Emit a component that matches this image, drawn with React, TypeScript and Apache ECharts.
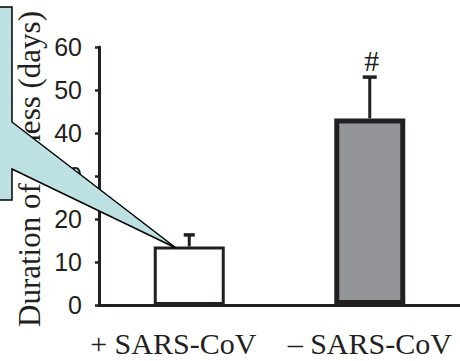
import React, { useEffect, useRef } from "react";
import * as echarts from "echarts";

// Groups, mean duration of illness and upper error (days)
const categories = ["+ SARS-CoV", "\u2013 SARS-CoV"];
const meanDays = [13.6, 43.4];
const errorDays = [2.7, 9.6];
const significance = ["", "#"];
const yTicks = [0, 10, 20, 30, 40, 50, 60];
const yTitle = "Duration of illness (days)";

const INK = "#231f20";
const SERIF = "'Liberation Serif', 'Times New Roman', serif";
const SANS = "'Liberation Sans', Arial, sans-serif";

const barLooks = [
  { color: "#ffffff", borderWidth: 3 },
  { color: "#939598", borderWidth: 5 },
];
const capWidths = [11, 14];

export default function App() {
  const ref = useRef<HTMLDivElement>(null);

  useEffect(() => {
    if (!ref.current) return;
    const chart = echarts.init(ref.current, null, { renderer: "svg" });

    const barData = meanDays.map((v, i) => ({
      value: v,
      itemStyle: { color: barLooks[i].color, borderColor: INK, borderWidth: barLooks[i].borderWidth },
    }));
    const errData = meanDays.map((v, i) => [i, v, errorDays[i]]);

    chart.setOption({
      animation: false,
      grid: { left: 99, right: -4, top: 47, bottom: 56 },
      xAxis: {
        type: "category",
        data: categories,
        axisLine: { lineStyle: { color: INK, width: 3 } },
        axisTick: { show: false },
        axisLabel: {
          interval: 0,
          hideOverlap: false,
          color: INK,
          fontFamily: SERIF,
          fontSize: 30,
          lineHeight: 26,
          margin: 25,
          formatter: (val: string, idx: number) => (idx === 0 ? `{a|${val}}` : `{b|${val}}`),
          rich: {
            a: { fontFamily: SERIF, fontSize: 30, lineHeight: 26, color: INK, padding: [0, 32, 0, 0] },
            b: { fontFamily: SERIF, fontSize: 30, lineHeight: 26, color: INK },
          },
        },
      },
      yAxis: {
        type: "value",
        min: yTicks[0],
        max: yTicks[yTicks.length - 1],
        interval: 10,
        splitLine: { show: false },
        axisLine: { show: true, lineStyle: { color: INK, width: 3 } },
        axisTick: { show: true, length: 4, lineStyle: { color: INK, width: 2.5 } },
        axisLabel: { color: INK, fontFamily: SANS, fontSize: 25, margin: 17 },
      },
      series: [
        {
          type: "bar",
          data: barData,
          barWidth: 71,
          z: 2,
        },
        {
          type: "custom",
          z: 3,
          data: errData,
          renderItem: (params: any, api: any) => {
            const i = api.value(0);
            const v = api.value(1);
            const e = api.value(2);
            const base = api.coord([i, v]);
            const top = api.coord([i, v + e]);
            const half = capWidths[i] / 2;
            const children: any[] = [
              {
                type: "line",
                shape: { x1: base[0], y1: base[1], x2: top[0], y2: top[1] },
                style: { stroke: INK, lineWidth: 3 },
              },
              {
                type: "line",
                shape: { x1: top[0] - half, y1: top[1], x2: top[0] + half, y2: top[1] },
                style: { stroke: INK, lineWidth: 3.5 },
              },
            ];
            if (significance[i]) {
              children.push({
                type: "text",
                style: {
                  text: significance[i],
                  x: top[0] + 2,
                  y: top[1] - 2,
                  align: "center",
                  verticalAlign: "bottom",
                  font: `30px ${SERIF}`,
                  fill: INK,
                },
              });
            }
            return { type: "group", children };
          },
        },
      ],
      graphic: [
        {
          type: "text",
          x: 29,
          y: 169,
          rotation: Math.PI / 2,
          z: 50,
          style: {
            text: yTitle,
            align: "center",
            verticalAlign: "middle",
            font: `31px ${SERIF}`,
            fill: INK,
          },
        },
        {
          type: "polygon",
          z: 100,
          shape: {
            points: [
              [-10, 7],
              [12, 7],
              [12, 122],
              [176, 248],
              [12, 169],
              [12, 200],
              [-10, 200],
            ],
          },
          style: { fill: "#bde0e3", stroke: "#000000", lineWidth: 1.5 },
        },
      ],
    });

    return () => chart.dispose();
  }, []);

  return (
    <div
      ref={ref}
      style={{ position: "fixed", left: 0, top: 0, width: 460, height: 361, background: "#ffffff" }}
    />
  );
}
